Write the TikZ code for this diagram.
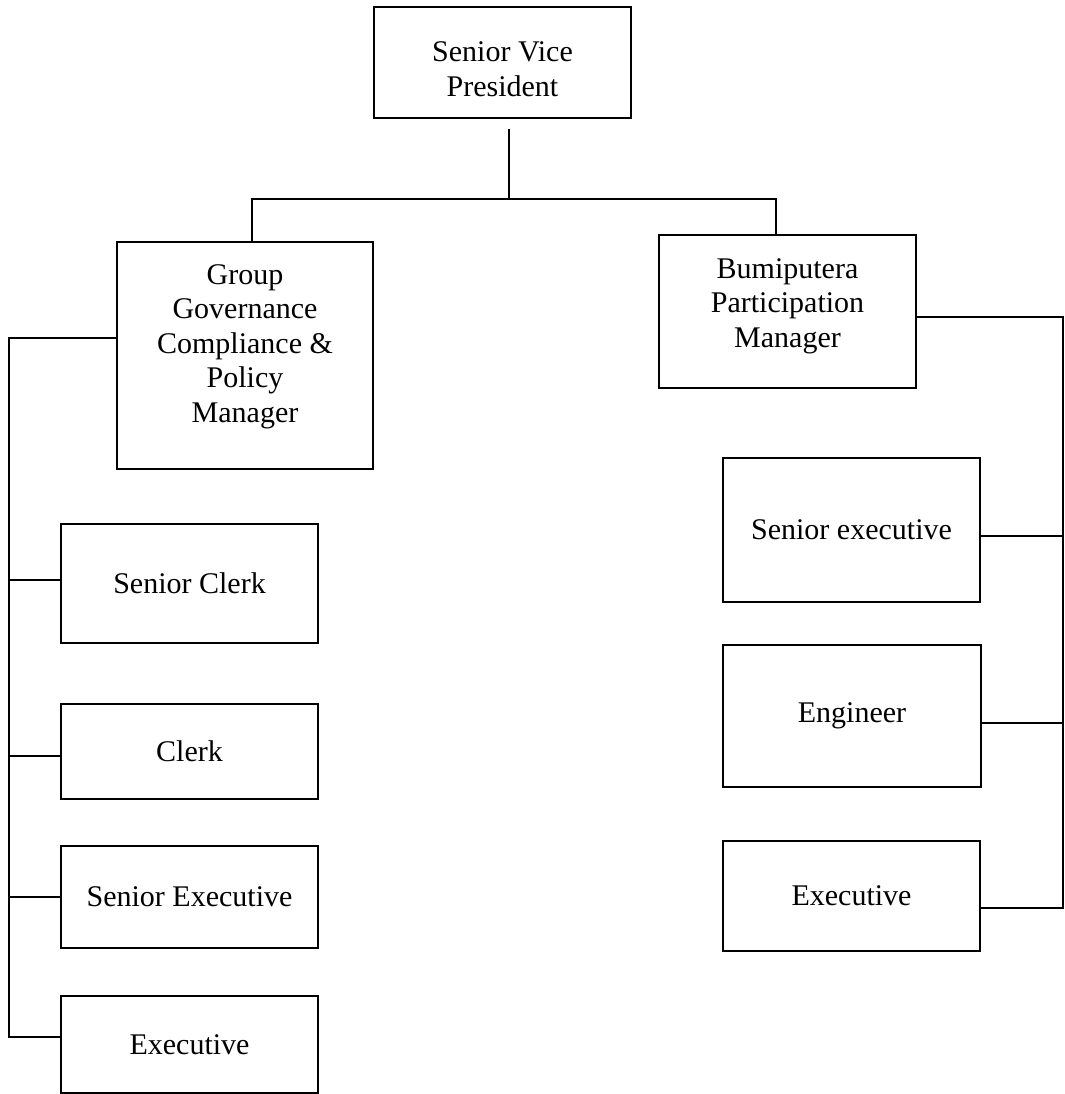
\documentclass[tikz,border=0pt]{standalone}
\usepackage{fontspec}
\setmainfont{Liberation Serif}
\begin{document}
\begin{tikzpicture}[x=0.5pt,y=-0.5pt,
  txt/.style={font=\fontsize{15}{17.25}\selectfont},
  box/.style={draw, rectangle, line width=1.35pt, inner sep=0pt, txt},
  lbl/.style={align=center, inner sep=0pt, anchor=base, txt},
  conn/.style={line width=1.3pt}]
\useasboundingbox (0,0) rectangle (1065,1094);

% boxes
\node[box, minimum width=128.5pt, minimum height=55.5pt] (svp) at (502.5,62.5) {};
\node[lbl] (svpT) at (502.5,96) {Senior Vice\\President};

\node[box, minimum width=128pt, minimum height=113.5pt] (gg) at (245,355.5) {};
\node[lbl] (ggT) at (245,422) {Group\\Governance\\Compliance \&\\Policy\\Manager};

\node[box, minimum width=128.5pt, minimum height=76.5pt] (bpm) at (787.5,311.5) {};
\node[lbl] (bpmT) at (787.5,347) {Bumiputera\\Participation\\Manager};

\node[box, minimum width=128.5pt, minimum height=59.5pt] (sc) at (189.5,583.5) {Senior Clerk};
\node[box, minimum width=128.5pt, minimum height=47.5pt] (cl) at (189.5,751.5) {Clerk};
\node[box, minimum width=128.5pt, minimum height=51pt] (se) at (189.5,897) {Senior Executive};
\node[box, minimum width=128.5pt, minimum height=48.5pt] (ex) at (189.5,1044.5) {Executive};

\node[box, minimum width=128.5pt, minimum height=72pt] (rse) at (851.5,530) {Senior executive};
\node[box, minimum width=129pt, minimum height=71pt] (eng) at (852,716) {Engineer};
\node[box, minimum width=128.5pt, minimum height=55pt] (rex) at (851.5,896) {Executive};

% junction coordinates
\coordinate (svpd) at (509,129);
\coordinate (jm) at (509,199);
\coordinate (jl) at (252,199);
\coordinate (jr) at (776,199);
\coordinate (lt) at (9,338);
\coordinate (scj) at (9,580);
\coordinate (clj) at (9,756);
\coordinate (sej) at (9,897);
\coordinate (lb) at (9,1037);
\coordinate (rt) at (1063,317);
\coordinate (rsej) at (1063,536);
\coordinate (engj) at (1063,723);
\coordinate (rb) at (1063,908);

% connectors
\draw[conn] (svpd) -- (jm);
\draw[conn] (jl |- gg.north) -- (jl) -- (jr) -- (jr |- bpm.north);

\draw[conn] (gg.west |- lt) -- (lt) -- (lb) -- (ex.west |- lb);
\draw[conn] (scj) -- (sc.west |- scj);
\draw[conn] (clj) -- (cl.west |- clj);
\draw[conn] (sej) -- (se.west |- sej);

\draw[conn] (bpm.east |- rt) -- (rt) -- (rb) -- (rex.east |- rb);
\draw[conn] (rsej) -- (rse.east |- rsej);
\draw[conn] (engj) -- (eng.east |- engj);
\end{tikzpicture}
\end{document}
